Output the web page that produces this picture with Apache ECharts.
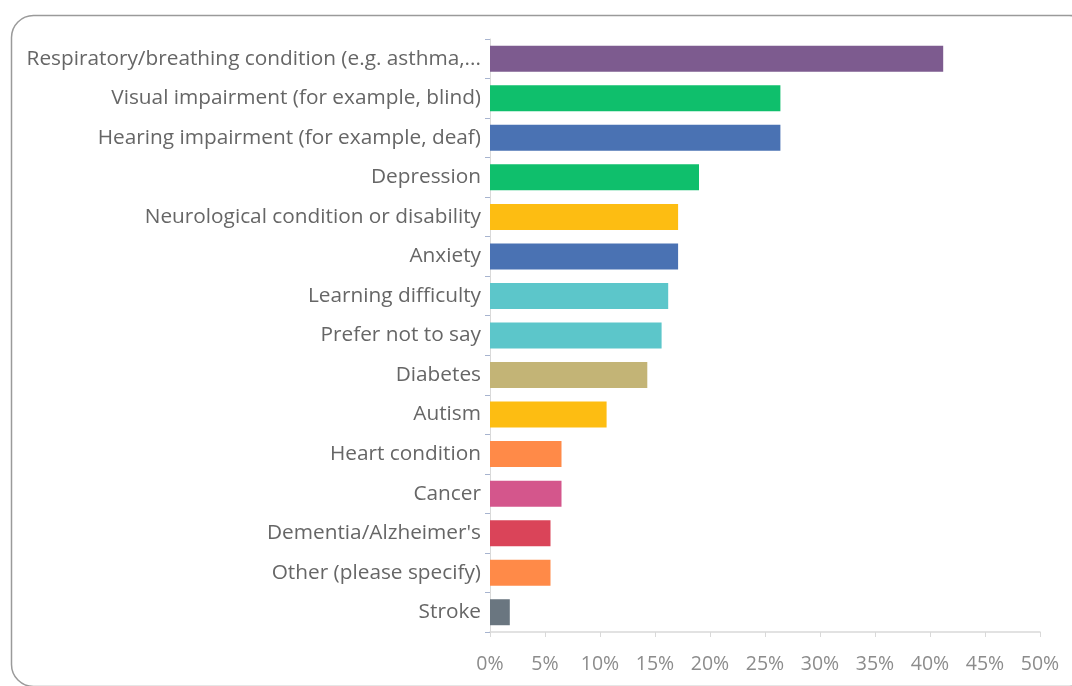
<!DOCTYPE html>
<html><head><meta charset="utf-8">
<script src="https://cdn.jsdelivr.net/npm/echarts@6/dist/echarts.min.js"></script>
<style>html,body{margin:0;padding:0;background:#fff}#c{width:1072px;height:686px}</style>
</head><body><div id="c"></div>
<script>
const categories = [
  "Respiratory/breathing condition (e.g. asthma,...",
  "Visual impairment (for example, blind)",
  "Hearing impairment (for example, deaf)",
  "Depression",
  "Neurological condition or disability",
  "Anxiety",
  "Learning difficulty",
  "Prefer not to say",
  "Diabetes",
  "Autism",
  "Heart condition",
  "Cancer",
  "Dementia/Alzheimer's",
  "Other (please specify)",
  "Stroke"
];
const values = [41.2, 26.4, 26.4, 19.0, 17.1, 17.1, 16.2, 15.6, 14.3, 10.6, 6.5, 6.5, 5.5, 5.5, 1.8];
const barColors = ["#7d5b8f", "#0fbf6c", "#4a72b3", "#0fbf6c", "#fdbd12", "#4a72b3", "#5cc6ca", "#5cc6ca",
  "#c3b476", "#fdbd12", "#ff8a48", "#d4568c", "#da4459", "#ff8a48", "#6a7680"];
const tickValues = [0, 5, 10, 15, 20, 25, 30, 35, 40, 45, 50];

const chart = echarts.init(document.getElementById('c'));
chart.setOption({
  animation: false,
  graphic: [{
    type: 'rect', left: 9, top: 13,
    shape: { width: 1080, height: 671, r: 22 },
    style: { fill: 'none', stroke: '#9a9a9a', lineWidth: 1.5 }
  }],
  grid: { left: 490, right: 32, top: 39, bottom: 54 },
  xAxis: {
    type: 'value', min: 0, max: 50, interval: 5,
    axisLine: { show: true, lineStyle: { color: '#d9d9d9', width: 1.5 } },
    axisTick: { show: true, length: 5, lineStyle: { color: '#d9d9d9' } },
    splitLine: { show: false },
    axisLabel: { formatter: v => v + '%', color: '#8c8c8c', fontSize: 19.5, fontFamily: 'Open Sans', margin: 22 }
  },
  yAxis: {
    type: 'category', inverse: true, data: categories,
    axisLine: { show: true, lineStyle: { color: '#d9d9d9', width: 1 } },
    axisTick: { show: true, length: 5, lineStyle: { color: '#a7b4cf' } },
    axisLabel: { color: '#666666', fontSize: 20.8, fontFamily: 'Open Sans', margin: 9 }
  },
  series: [{
    type: 'bar',
    data: values.map((v, i) => ({ value: v, itemStyle: { color: barColors[i] } })),
    barWidth: 26
  }]
});
</script></body></html>
